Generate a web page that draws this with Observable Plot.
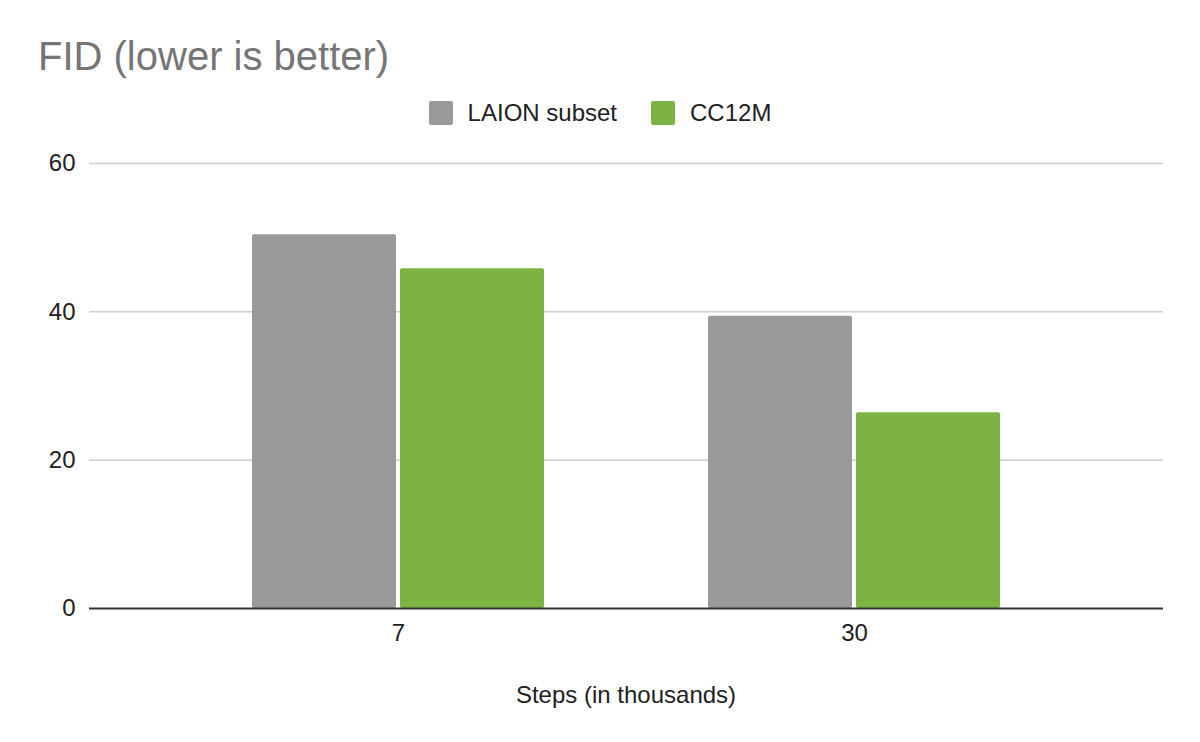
<!DOCTYPE html>
<html>
<head>
<meta charset="utf-8">
<script src="https://cdn.jsdelivr.net/npm/d3@7"></script>
<script src="https://cdn.jsdelivr.net/npm/@observablehq/plot@0.6"></script>
<style>
  html, body { margin: 0; padding: 0; background: #fff; }
  body { font-family: "Liberation Sans", Arial, Helvetica, sans-serif; }
  #wrap { position: relative; width: 1200px; height: 742px; overflow: hidden; }
  #chart { position: absolute; left: 0; top: 0; }
  #title { position: absolute; left: 38px; top: 36px; font-size: 40px; line-height: 40px; color: #757575; white-space: nowrap; }
  #legend { position: absolute; left: 0; top: 101px; width: 1200px; display: flex; justify-content: center; align-items: center; font-size: 24px; line-height: 24px; color: #212121; }
  .item { display: flex; align-items: center; margin: 0 17px; }
  .sw { width: 24px; height: 24px; border-radius: 2px; margin-right: 15px; }
  #xlabel { position: absolute; left: 89px; width: 1074px; top: 683px; text-align: center; font-size: 24px; line-height: 24px; color: #212121; }
</style>
</head>
<body>
<div id="wrap">
  <div id="chart"></div>
  <div id="title">FID (lower is better)</div>
  <div id="legend"></div>
  <div id="xlabel">Steps (in thousands)</div>
</div>
<script>
// ---- data ----
const steps = ["7", "30"];
const seriesNames = ["LAION subset", "CC12M"];
const seriesColors = ["#999999", "#7cb342"];
const laionValues = [50.4, 39.4];
const cc12mValues = [45.8, 26.4];
const yTicks = [0, 20, 40, 60];

const table = steps.flatMap((s, i) => [
  {step: s, series: seriesNames[0], value: laionValues[i]},
  {step: s, series: seriesNames[1], value: cc12mValues[i]}
]);

const half = 148;

const chart = Plot.plot({
  width: 1200,
  height: 742,
  marginLeft: 89,
  marginRight: 37,
  marginTop: 163,
  marginBottom: 134,
  style: {fontFamily: '"Liberation Sans", Arial, sans-serif', color: "#212121", background: "transparent"},
  x: {type: "band", domain: steps, paddingInner: 0.36, paddingOuter: 0.3575},
  y: {domain: [0, 60]},
  color: {domain: seriesNames, range: seriesColors},
  marks: [
    Plot.gridY({ticks: yTicks.filter(d => d !== 0), stroke: "#cccccc", strokeOpacity: 1, strokeWidth: 1.5}),
    Plot.barY(table.filter(d => d.series === seriesNames[0]), {x: "step", y: "value", fill: "series", insetRight: half, rx: 2}),
    Plot.barY(table.filter(d => d.series === seriesNames[1]), {x: "step", y: "value", fill: "series", insetLeft: half, rx: 2}),
    Plot.ruleY([0], {stroke: "#333333", strokeWidth: 2}),
    Plot.axisY({ticks: yTicks, tickSize: 0, tickPadding: 14, fontSize: 24, label: null, tickFormat: d => String(d)}),
    Plot.axisX({tickSize: 0, tickPadding: 15, fontSize: 24, label: null})
  ]
});
document.getElementById("chart").appendChild(chart);

const legend = document.getElementById("legend");
seriesNames.forEach((name, i) => {
  const item = document.createElement("div");
  item.className = "item";
  const sw = document.createElement("div");
  sw.className = "sw";
  sw.style.background = seriesColors[i];
  const label = document.createElement("span");
  label.textContent = name;
  item.appendChild(sw);
  item.appendChild(label);
  legend.appendChild(item);
});
</script>
</body>
</html>
